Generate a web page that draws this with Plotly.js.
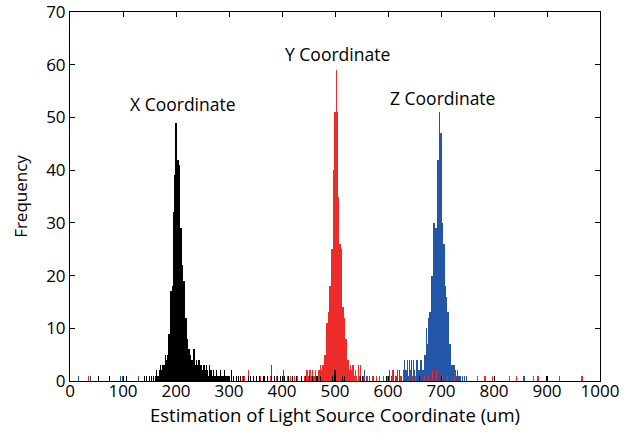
<!DOCTYPE html>
<html>
<head>
<meta charset="utf-8">
<script src="https://cdn.plot.ly/plotly-3.0.1.min.js"></script>
<style>html,body{margin:0;padding:0;background:#fff;}#chart{width:633px;height:437px;}</style>
</head>
<body>
<div id="chart"></div>
<script>
// Histogram bin centres (um) and frequencies
const xBins = [53,75,107,141,145,150,154,158,162,164,166,168,170,172,174,176,178,180,182,184,186,188,190,192,194,196,198,200,202,204,206,208,210,212,214,216,218,220,222,224,226,228,230,232,234,236,238,240,242,244,246,248,250,252,254,256,258,260,262,264,266,268,270,272,274,276,278,280,282,284,286,288,290,292,294,296,298,300,304,308,314,318,322,328,336,340,346,352,358,366,372,380,386,392,398,404,412,420,428,436,444,452,458,466,472,496,500,514,518,548,552,598,660,900];
const xCounts = [1,1,1,1,1,1,1,1,1,2,1,2,3,2,3,3,3,5,4,5,9,9,17,17,18,32,39,49,42,42,41,29,29,22,19,19,12,12,8,6,6,5,4,4,6,3,4,3,4,4,3,3,2,3,3,2,3,2,1,3,2,1,2,1,1,2,1,1,1,2,1,1,1,2,1,1,1,1,2,1,1,1,1,1,1,1,1,1,1,1,1,1,1,1,1,1,1,1,1,1,1,1,1,1,1,1,2,1,1,1,1,1,1,1];

const yBins = [35,314,318,322,326,330,336,360,366,372,378,390,404,410,416,424,430,436,442,446,448,450,452,454,456,458,460,462,464,466,468,470,472,474,476,478,480,482,484,486,488,490,492,494,496,498,500,502,504,506,508,510,512,514,516,518,520,522,524,526,528,530,532,534,536,538,540,544,546,548,556,562,570,578,584,592,600,608,616,624,630,640,646,652,660,668,676,684,692,702,712,720,726,768,783,798,830,843,874,883,924,966];
const yCounts = [1,1,1,1,1,1,2,1,1,1,1,1,1,1,1,1,1,1,1,2,2,1,2,2,1,2,1,1,2,1,2,2,3,2,3,3,5,5,11,11,13,18,18,25,25,40,51,59,51,35,26,26,25,14,14,12,8,8,4,4,2,3,2,3,1,2,1,3,1,3,1,1,1,1,1,1,1,2,1,1,1,1,1,1,1,1,1,2,2,1,1,1,1,1,1,1,1,1,1,1,1,1];

const zBins = [16,38,95,99,129,381,402,553,556,560,565,572,598,602,606,610,614,618,622,626,630,632,634,636,638,640,642,644,646,648,650,652,654,656,658,660,662,664,666,668,670,672,674,676,678,680,682,684,686,688,690,692,694,696,698,700,702,704,706,708,710,712,714,716,718,720,722,724,726,728,730,732,734,736,740,745,748,855,858];
const zCounts = [1,1,1,1,1,3,2,1,2,1,1,1,1,2,1,2,1,2,2,1,2,4,2,4,1,4,2,4,1,4,2,1,4,4,2,2,4,4,2,5,5,10,7,12,13,13,20,20,30,30,29,29,42,42,51,47,30,26,26,18,16,13,13,7,7,3,3,3,3,2,1,2,1,1,1,1,1,1,1];

const seriesNames = ['Z Coordinate','Y Coordinate','X Coordinate'];
const labelX = [702, 504, 213];
const labelY = [53.7, 62, 52.6];

const font = 'Open Sans, Noto Sans, sans-serif';
function barTrace(xs, ys, color, name) {
  return {type:'bar', x:xs, y:ys, width:2, name:name,
    marker:{color:color, line:{width:0}}, hoverinfo:'x+y'};
}
const traces = [
  barTrace(zBins, zCounts, '#2356A6', seriesNames[0]),
  barTrace(yBins, yCounts, '#ED2B2B', seriesNames[1]),
  barTrace(xBins, xCounts, '#000000', seriesNames[2])
];
const annotations = seriesNames.map((n,i)=>({
  x:labelX[i], y:labelY[i], xref:'x', yref:'y', text:n, showarrow:false,
  font:{family:font, size:17.5, color:'#000'}
}));
const layout = {
  width:633, height:437,
  margin:{l:70, r:33, t:12, b:56},
  paper_bgcolor:'#fff', plot_bgcolor:'#fff',
  barmode:'overlay', bargap:0, showlegend:false,
  font:{family:font, size:17, color:'#000'},
  xaxis:{range:[0,1000], tick0:0, dtick:100, ticks:'inside', ticklen:5, tickcolor:'#000',
    showline:true, linecolor:'#000', linewidth:1, mirror:'ticks', showgrid:false, zeroline:false,
    tickfont:{family:font, size:17}, ticklabelstandoff:-5, ticklabeloverflow:'allow',
    title:{text:'Estimation of Light Source Coordinate (um)', font:{family:font, size:18.5}, standoff:0}},
  yaxis:{range:[0,70], tick0:0, dtick:10, ticks:'inside', ticklen:5, tickcolor:'#000',
    showline:true, linecolor:'#000', linewidth:1, mirror:'ticks', showgrid:false, zeroline:false,
    tickfont:{family:font, size:17}, ticklabelstandoff:0, ticklabeloverflow:'allow',
    title:{text:'Frequency', font:{family:font, size:17}, standoff:14}},
  annotations:annotations
};
Plotly.newPlot('chart', traces, layout, {staticPlot:true, displayModeBar:false});
</script>
</body>
</html>
